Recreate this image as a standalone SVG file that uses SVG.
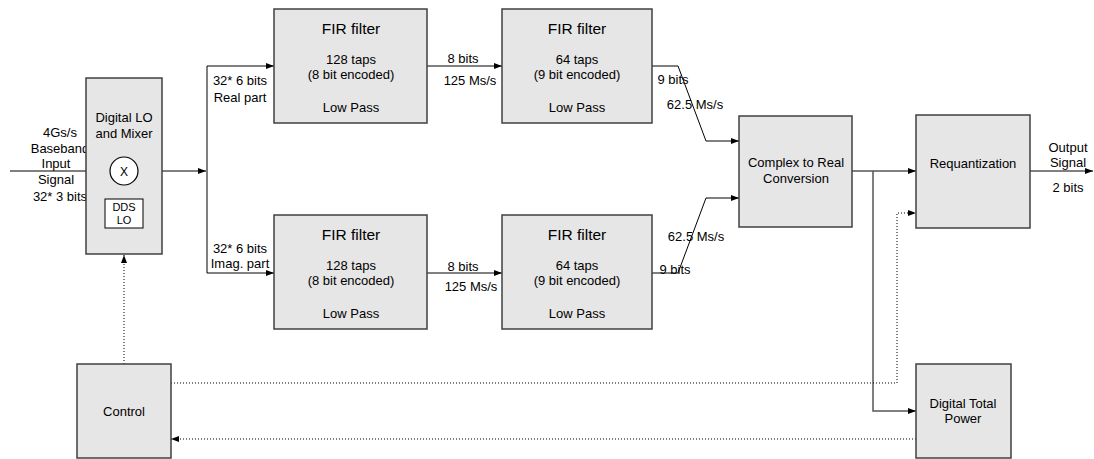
<svg xmlns="http://www.w3.org/2000/svg" width="1094" height="459" viewBox="0 0 1094 459">
<defs>
<marker id="ah" markerUnits="userSpaceOnUse" markerWidth="9" markerHeight="7" refX="8" refY="3" orient="auto">
<path d="M0,0 L8,3 L0,6 z" fill="#000"/>
</marker>
<style>
.box{fill:#e6e6e6;stroke:#404040;stroke-width:1.5}
.t{font-family:"Liberation Sans",Arial,sans-serif;font-size:13px;fill:#000;text-anchor:middle}
.h{font-size:15.5px}
.s{font-size:11px}
.c{fill:none;stroke:#000;stroke-width:1}
.g{fill:none;stroke:#555;stroke-width:1.5}
.d{fill:none;stroke:#000;stroke-width:1;stroke-dasharray:1,2}
</style>
</defs>
<rect width="1094" height="459" fill="#fff"/>

<g id="connectors">
<line class="c" x1="10" y1="171" x2="110" y2="171" marker-end="url(#ah)"/>
<line class="c" x1="124" y1="199" x2="124" y2="185" marker-end="url(#ah)"/>
<line class="c" x1="138" y1="171" x2="206" y2="171" marker-end="url(#ah)"/>
<line class="c" x1="207" y1="66" x2="207" y2="273"/>
<line class="c" x1="207" y1="66" x2="274" y2="66" marker-end="url(#ah)"/>
<line class="c" x1="207" y1="273" x2="274" y2="273" marker-end="url(#ah)"/>
<line class="c" x1="427" y1="66" x2="502" y2="66" marker-end="url(#ah)"/>
<line class="c" x1="427" y1="273" x2="502" y2="273" marker-end="url(#ah)"/>
<polyline class="c" points="652,66 678,66 706,141 739,141" marker-end="url(#ah)"/>
<polyline class="c" points="652,273 678,273 706,198 739,198" marker-end="url(#ah)"/>
<line class="c" x1="852" y1="171" x2="916" y2="171" marker-end="url(#ah)"/>
<polyline class="g" points="873,171 873,411 916,411" marker-end="url(#ah)"/>
<line class="c" x1="1030" y1="171" x2="1093" y2="171" marker-end="url(#ah)"/>
<line class="d" x1="124" y1="364" x2="124" y2="255" marker-end="url(#ah)"/>
<polyline class="d" points="171,383 897,383 897,213 916,213" marker-end="url(#ah)"/>
<line class="d" x1="916" y1="439" x2="171" y2="439" marker-end="url(#ah)"/>
</g>

<g id="input-label">
<text class="t" x="60" y="137">4Gs/s</text>
<text class="t" x="60" y="153">Baseband</text>
<text class="t" x="56" y="168">Input</text>
<text class="t" x="56" y="184">Signal</text>
<text class="t" x="60" y="201">32* 3 bits</text>
</g>

<g id="mixer">
<rect class="box" x="86" y="78" width="76" height="176"/>
<text class="t" x="124" y="121.5">Digital LO</text>
<text class="t" x="124" y="137.5">and Mixer</text>
<circle cx="124" cy="171" r="14" fill="#fff" stroke="#000" stroke-width="1.2"/>
<text class="t" x="124" y="175.5" style="font-size:12px">X</text>
<rect x="105" y="199" width="38" height="29" fill="#fff" stroke="#000" stroke-width="1"/>
<text class="t s" x="124" y="211">DDS</text>
<text class="t s" x="124" y="224">LO</text>
</g>

<g id="branch-labels">
<text class="t" x="240" y="84.5">32* 6 bits</text>
<text class="t" x="240" y="101.5">Real part</text>
<text class="t" x="240" y="252.5">32* 6 bits</text>
<text class="t" x="240" y="267.5">Imag. part</text>
<text class="t" x="463" y="62.5">8 bits</text>
<text class="t" x="470" y="84.5">125 Ms/s</text>
<text class="t" x="463" y="270.5">8 bits</text>
<text class="t" x="471" y="290.5">125 Ms/s</text>
<text class="t" x="673" y="83.5">9 bits</text>
<text class="t" x="695" y="108.5">62.5 Ms/s</text>
<text class="t" x="675" y="273.5">9 bits</text>
<text class="t" x="696" y="240.5">62.5 Ms/s</text>
<text class="t" x="1068" y="151.5">Output</text>
<text class="t" x="1068" y="166.5">Signal</text>
<text class="t" x="1068" y="191.5">2 bits</text>
</g>

<g id="fir1-real">
<rect class="box" x="274" y="9" width="153" height="114"/>
<text class="t h" x="351" y="33.5">FIR filter</text>
<text class="t" x="351" y="63.5">128 taps</text>
<text class="t" x="351" y="78.5">(8 bit encoded)</text>
<text class="t" x="351" y="111.5">Low Pass</text>
</g>

<g id="fir2-real">
<rect class="box" x="502" y="9" width="150" height="114"/>
<text class="t h" x="577" y="33.5">FIR filter</text>
<text class="t" x="577" y="63.5">64 taps</text>
<text class="t" x="577" y="78.5">(9 bit encoded)</text>
<text class="t" x="577" y="111.5">Low Pass</text>
</g>

<g id="fir1-imag">
<rect class="box" x="274" y="215" width="153" height="114"/>
<text class="t h" x="351" y="239.5">FIR filter</text>
<text class="t" x="351" y="269.5">128 taps</text>
<text class="t" x="351" y="284.5">(8 bit encoded)</text>
<text class="t" x="351" y="317.5">Low Pass</text>
</g>

<g id="fir2-imag">
<rect class="box" x="502" y="215" width="150" height="114"/>
<text class="t h" x="577" y="239.5">FIR filter</text>
<text class="t" x="577" y="269.5">64 taps</text>
<text class="t" x="577" y="284.5">(9 bit encoded)</text>
<text class="t" x="577" y="317.5">Low Pass</text>
</g>

<g id="complex-to-real">
<rect class="box" x="739" y="116" width="113" height="111"/>
<text class="t" x="796" y="166.5">Complex to Real</text>
<text class="t" x="796" y="182.5">Conversion</text>
</g>

<g id="requantization">
<rect class="box" x="916" y="115" width="114" height="113"/>
<text class="t" x="973" y="167.5">Requantization</text>
</g>

<g id="digital-total-power">
<rect class="box" x="916" y="364" width="95" height="94"/>
<text class="t" x="963" y="407.5">Digital Total</text>
<text class="t" x="963" y="422.5">Power</text>
</g>

<g id="control">
<rect class="box" x="77" y="364" width="94" height="94"/>
<text class="t" x="124" y="415.5">Control</text>
</g>
</svg>
